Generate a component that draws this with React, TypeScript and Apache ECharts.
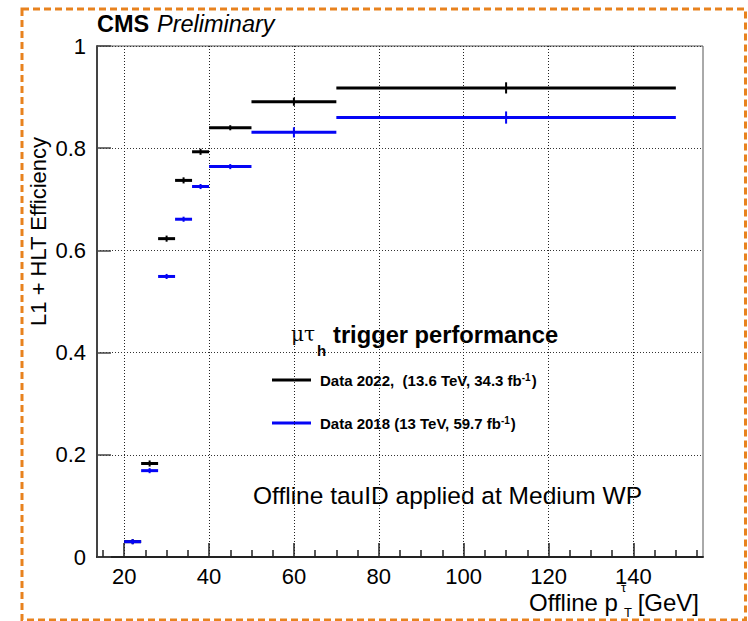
import React, { useEffect, useRef } from 'react';
import * as echarts from 'echarts';

// Bin edges (offline tau pT, GeV)
const binLow = [20, 24, 28, 32, 36, 40, 50, 70];
const binHigh = [24, 28, 32, 36, 40, 50, 70, 150];
// Efficiencies
const eff2022 = [0.030, 0.183, 0.623, 0.737, 0.793, 0.840, 0.891, 0.918];
const err2022 = [0.003, 0.004, 0.004, 0.004, 0.004, 0.003, 0.006, 0.009];
const eff2018 = [0.030, 0.169, 0.549, 0.661, 0.725, 0.764, 0.831, 0.860];
const err2018 = [0.003, 0.003, 0.003, 0.003, 0.003, 0.003, 0.008, 0.010];

const xMajorTicks = [20, 40, 60, 80, 100, 120, 140];
const xMinorTicks = [15, 25, 30, 35, 45, 50, 55, 65, 70, 75, 85, 90, 95, 105, 110, 115, 125, 130, 135, 145, 150, 155];

const legendTitle = 'trigger performance';
const legend2022 = 'Data 2022,  (13.6 TeV, 34.3 fb';
const legend2018 = 'Data 2018 (13 TeV, 59.7 fb';
const noteText = 'Offline tauID applied at Medium WP';

const FONT = "'Liberation Sans', Arial, Helvetica, sans-serif";
const BLACK = '#000000';
const BLUE = '#0505f5';

function makeSeries(name: string, eff: number[], err: number[], color: string) {
  const data = eff.map((v, i) => [binLow[i], binHigh[i], v, err[i]]);
  return {
    type: 'custom',
    name,
    xAxisIndex: 0,
    yAxisIndex: 0,
    data,
    encode: { x: [0, 1], y: 2 },
    renderItem: (params: any, api: any) => {
      const lo = api.value(0);
      const hi = api.value(1);
      const y = api.value(2);
      const e = api.value(3);
      const mid = (lo + hi) / 2;
      const p1 = api.coord([lo, y]);
      const p2 = api.coord([hi, y]);
      const t = api.coord([mid, y + e]);
      const b = api.coord([mid, y - e]);
      return {
        type: 'group',
        children: [
          {
            type: 'line',
            shape: { x1: p1[0], y1: p1[1], x2: p2[0], y2: p2[1] },
            style: { stroke: color, lineWidth: 3 },
          },
          {
            type: 'line',
            shape: { x1: t[0], y1: t[1] - 1, x2: b[0], y2: b[1] + 1 },
            style: { stroke: color, lineWidth: 2 },
          },
        ],
      };
    },
  };
}

function txt(x: number, y: number, text: string, size: number, opts: any = {}) {
  const align = opts.align || 'left';
  return {
    type: 'text',
    x,
    y,
    rotation: opts.rotation || 0,
    style: {
      text,
      fontSize: size,
      fontFamily: opts.fontFamily || FONT,
      fontWeight: opts.fontWeight || 'normal',
      fontStyle: opts.fontStyle || 'normal',
      fill: opts.fill || '#000',
      align,
      textAlign: align,
      verticalAlign: 'middle',
      textVerticalAlign: 'middle',
      rich: opts.rich,
    },
  };
}

export default function App() {
  const ref = useRef<HTMLDivElement>(null);
  useEffect(() => {
    if (!ref.current) return;
    const chart = echarts.init(ref.current, null, { renderer: 'svg' });
    const legendRich = {
      b: { fontSize: 15, fontWeight: 'bold', fontFamily: FONT, color: '#000' },
      s: { fontSize: 10, fontWeight: 'bold', fontFamily: FONT, verticalAlign: 'top', color: '#000', padding: [0, 1, 6, 0] },
    };
    chart.setOption({
      animation: false,
      grid: {
        left: 97,
        top: 46,
        right: 45,
        bottom: 64,
        show: true,
        borderColor: '#555',
        borderWidth: 1,
        backgroundColor: 'transparent',
      },
      xAxis: [
        {
          type: 'value',
          min: 13.6,
          max: 156.4,
          position: 'bottom',
          axisLine: { show: true, onZero: false, lineStyle: { color: '#222', width: 2 } },
          axisTick: { show: true, inside: true, length: 14, customValues: xMajorTicks, lineStyle: { color: '#222', width: 1.5 } },
          axisLabel: { show: true, customValues: xMajorTicks, fontSize: 22, fontFamily: FONT, color: '#000', margin: 8 },
          splitLine: { show: true, lineStyle: { color: '#222', type: [1, 2], width: 1 } },
        },
        {
          type: 'value',
          min: 13.6,
          max: 156.4,
          position: 'bottom',
          axisLine: { show: false },
          axisTick: { show: true, inside: true, length: 7, customValues: xMinorTicks, lineStyle: { color: '#222', width: 1.5 } },
          axisLabel: { show: false },
          splitLine: { show: false },
        },
      ],
      yAxis: {
        type: 'value',
        min: 0,
        max: 1,
        interval: 0.2,
        axisLine: { show: true, onZero: false, lineStyle: { color: '#444', width: 2 } },
        axisTick: { show: true, inside: true, length: 14, lineStyle: { color: '#444', width: 1.5 } },
        axisLabel: { fontSize: 22, fontFamily: FONT, color: '#000', margin: 11 },
        splitLine: { show: true, lineStyle: { color: '#333', type: [1, 2], width: 1 } },
      },
      series: [
        makeSeries('Data 2022', eff2022, err2022, BLACK),
        makeSeries('Data 2018', eff2018, err2018, BLUE),
      ],
      graphic: [
        // orange dashed frame
        {
          type: 'rect',
          shape: { x: 22, y: 9, width: 723.5, height: 611 },
          style: { fill: 'none', stroke: '#e8821e', lineWidth: 3, lineDash: [7, 4] },
          silent: true,
        },
        txt(97, 24, 'CMS', 23.5, { fontWeight: 'bold' }),
        txt(157, 24, 'Preliminary', 23.5, { fontStyle: 'italic' }),
        // y axis title
        txt(38, 137, 'L1 + HLT Efficiency', 22, { align: 'right', rotation: Math.PI / 2 }),
        // x axis title
        txt(529, 602, 'Offline p', 24),
        txt(621, 587, 'τ', 13),
        txt(624, 612, 'T', 13),
        txt(699, 602, '[GeV]', 24, { align: 'right' }),
        // legend title
        txt(291, 334, 'μτ', 20, { fontFamily: "'DejaVu Serif', 'Liberation Serif', serif" }),
        txt(317, 350, 'h', 15, { fontWeight: 'bold' }),
        txt(333, 335, legendTitle, 23.7, { fontWeight: 'bold' }),
        // legend entries
        { type: 'line', shape: { x1: 272, y1: 380, x2: 311, y2: 380 }, style: { stroke: BLACK, lineWidth: 3 } },
        { type: 'line', shape: { x1: 272, y1: 423, x2: 311, y2: 423 }, style: { stroke: BLUE, lineWidth: 3 } },
        txt(320, 380, `{b|${legend2022}}{s|-1}{b|)}`, 15, { fontWeight: 'bold', rich: legendRich }),
        txt(320, 423, `{b|${legend2018}}{s|-1}{b|)}`, 15, { fontWeight: 'bold', rich: legendRich }),
        // note
        txt(253, 495, noteText, 24.5),
      ],
    });
    return () => chart.dispose();
  }, []);
  return (
    <div
      ref={ref}
      style={{ position: 'fixed', left: 0, top: 0, width: 748, height: 621, background: '#fff' }}
    />
  );
}
